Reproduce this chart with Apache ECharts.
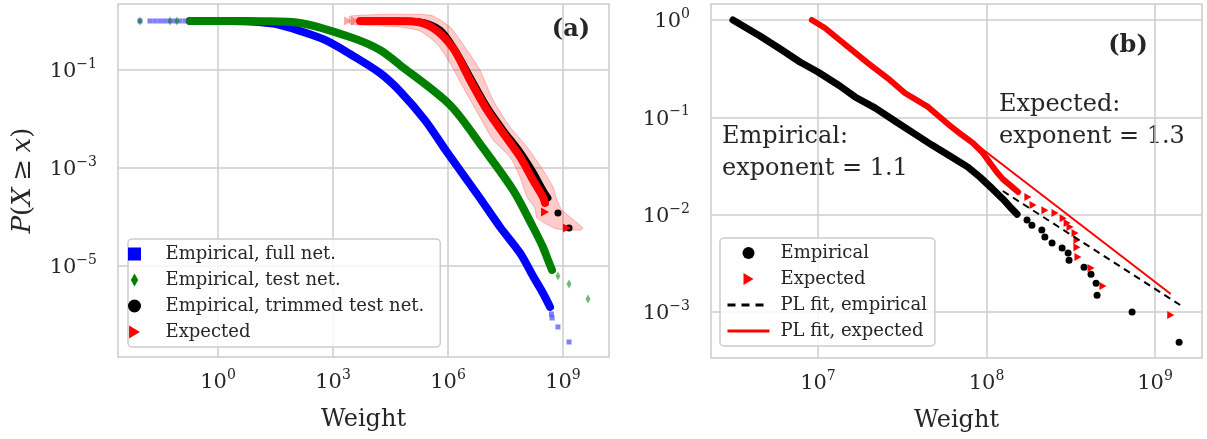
<!DOCTYPE html>
<html>
<head>
<meta charset="utf-8">
<script src="https://cdn.jsdelivr.net/npm/echarts@6/dist/echarts.min.js"></script>
<style>
html, body { margin: 0; padding: 0; background: #fff; }
#chart { width: 1207px; height: 439px; }
</style>
</head>
<body>
<div id="chart"></div>
<script>
// ---- panel (a): complementary CDF, points are [weight, P(X >= x)] ----
var fullHead = [[9.2e-3, 1], [0.0168, 1], [0.0227, 1], [0.0307, 1], [0.0414, 1], [0.056, 1], [0.0755, 1], [0.102, 1], [0.14, 1]];
var fullLine = [[0.186, 1], [2.06, 1], [6.8, 0.98], [30.7, 0.87], [138, 0.625], [619, 0.41], [2780, 0.212],
  [1.68e4, 0.087], [5.6e4, 0.037], [2.5e5, 9.5e-3], [9.4e5, 2.12e-3], [6.8e6, 2.44e-4], [2.28e7, 6.25e-5],
  [7.6e7, 1.84e-5], [1.65e8, 6.25e-6], [3.0e8, 2.81e-6], [4.6e8, 1.46e-6]];
var fullTail = [[5.0e8, 1.05e-6], [5.2e8, 8.7e-7], [7.4e8, 5.7e-7], [1.44e9, 2.81e-7]];

var testHead = [[9.2e-3, 1], [0.056, 1], [0.085, 1]];
var testLine = [[0.186, 1], [2.06, 1], [12.5, 0.99], [138, 0.91], [2780, 0.47], [1.68e4, 0.256], [5.6e4, 0.126],
  [1.13e6, 0.0193], [8.2e6, 2.56e-3], [4.97e7, 3.56e-4], [1.65e8, 6.25e-5], [3.0e8, 2.44e-5], [4.07e8, 1.32e-5],
  [5.18e8, 8.3e-6]];
var testTail = [[7.4e8, 6.25e-6], [1.44e9, 4.3e-6], [4.5e9, 2.12e-6]];

var trimLine = [[3.07e4, 1], [1.86e5, 0.955], [6.2e5, 0.655], [1.52e6, 0.256], [3.76e6, 0.072], [1.04e7, 0.0176],
  [2.73e7, 5.97e-3], [7.6e7, 2.12e-3], [1.65e8, 8.3e-4], [3.0e8, 3.56e-4], [4.07e8, 2.44e-4]];
var trimTail = [[7.4e8, 1.21e-4], [1.44e9, 5.97e-5]];

var expHead = [[2470, 1], [3750, 1]];
var expLine = [[5070, 1], [1.68e4, 1], [1.22e5, 0.98], [4.07e5, 0.72], [1.35e6, 0.281], [3.76e6, 0.0625],
  [1.04e7, 0.0153], [2.73e7, 5.18e-3], [7.6e7, 1.68e-3], [1.65e8, 5.69e-4], [3.0e8, 2.56e-4], [3.4e8, 1.93e-4]];
var expTail = [[3.4e8, 1.26e-4], [1.27e9, 5.97e-5]];

// spread of the expected curve: right edge going down, then left edge going back up
var bandRight = [[2780, 1.26], [3.4e5, 1.32], [1.13e6, 0.755], [3.13e6, 0.256], [6.8e6, 0.1], [1.5e7, 0.0244],
  [4.15e7, 6.9e-3], [1.15e8, 2.69e-3], [3.0e8, 9.1e-4], [5.5e8, 4.1e-4], [7.0e8, 2.22e-4], [9.4e8, 1.39e-4],
  [3.33e9, 5.97e-5], [2.79e9, 5.43e-5]];
var bandLeft = [[7.0e8, 5.7e-5], [2.1e8, 9.5e-5], [1.86e8, 1.53e-4], [1.15e8, 2.56e-4], [7.6e7, 6.55e-4],
  [4.15e7, 1.68e-3], [1.5e7, 3.73e-3], [6.8e6, 0.011], [2.47e6, 0.045], [1.13e6, 0.139], [5.2e5, 0.34],
  [1.86e5, 0.625], [5.6e4, 0.755], [2780, 0.87]];

// ---- panel (b): tail of the trimmed net ----
var empLine = [[3.13e6, 1], [4.53e6, 0.685], [6.11e6, 0.492], [7.82e6, 0.370], [1e7, 0.292], [1.35e7, 0.210],
  [1.66e7, 0.162], [2.18e7, 0.125], [2.86e7, 0.0917], [3.77e7, 0.0673], [4.75e7, 0.0519], [6.07e7, 0.0400],
  [7.76e7, 0.0308], [9.15e7, 0.0243], [1.09e8, 0.0183], [1.25e8, 0.0145], [1.38e8, 0.0120], [1.52e8, 0.0101]];
var empDots = [[1.74e8, 8.8e-3], [1.86e8, 7.8e-3], [2.13e8, 6.95e-3], [2.22e8, 5.89e-3], [2.45e8, 5.11e-3],
  [2.81e8, 4.54e-3], [3.05e8, 4.03e-3], [3.09e8, 3.41e-3], [3.79e8, 2.89e-3], [4.17e8, 2.45e-3],
  [4.47e8, 1.98e-3], [4.53e8, 1.49e-3], [7.31e8, 9.98e-4], [1.39e9, 4.9e-4]];
var expLineB = [[9.2e6, 1], [1.10e7, 0.828], [1.39e7, 0.594], [1.98e7, 0.361], [2.67e7, 0.242], [3.28e7, 0.178],
  [4.50e7, 0.128], [5.91e7, 0.0853], [7.16e7, 0.0658], [8.32e7, 0.0544], [9.41e7, 0.0440], [1.05e8, 0.0339],
  [1.15e8, 0.0274], [1.25e8, 0.0232], [1.38e8, 0.0201], [1.54e8, 0.0171]];
var expTriB = [[1.76e8, 0.0152], [1.89e8, 0.0126], [2.22e8, 0.0111], [2.55e8, 0.0104], [2.85e8, 9.2e-3],
  [3.01e8, 8.2e-3], [3.13e8, 7.46e-3], [3.35e8, 6.47e-3], [3.44e8, 5.48e-3], [3.44e8, 4.64e-3],
  [3.49e8, 3.67e-3], [4.17e8, 2.83e-3], [4.91e8, 1.85e-3], [1.24e9, 9.3e-4]];
var fitEmp = [[1.25e8, 0.0175], [1.41e9, 1.18e-3]];
var fitExp = [[6.5e7, 0.0776], [1.24e9, 1.53e-3]];

// tick positions
var ticksAx = [1, 1e3, 1e6, 1e9];
var ticksAy = [1e-5, 1e-3, 1e-1];
var ticksBx = [1e7, 1e8, 1e9];
var ticksBy = [1e-3, 1e-2, 1e-1, 1];

var FONT = 'DejaVu Serif';
var TXT = '#262626';
var GRID = '#cccccc';
var TRI = 'path://M0,0L10,6L0,12Z';
var SQUARE = 'path://M0,0L10,0L10,10L0,10Z';
var THIN_DIAMOND = 'path://M4,0L8,7L4,14L0,7Z';

function powLabel(v) {
	var e = Math.round(Math.log10(v));
	return '{b|10}{s|' + (e < 0 ? '\u2212' + (-e) : e) + '}';
}

function logAxis(gridIndex, min, max, ticks, margin) {
	return {
		type: 'log',
		logBase: 10,
		gridIndex: gridIndex,
		min: min,
		max: max,
		axisLine: { show: false },
		axisTick: { show: false, customValues: ticks },
		minorTick: { show: false },
		minorSplitLine: { show: false },
		splitLine: { show: true, lineStyle: { color: GRID, width: 1.5 } },
		axisLabel: {
			customValues: ticks,
			margin: margin,
			formatter: powLabel,
			rich: {
				b: { fontSize: 21, fontFamily: FONT, color: TXT, padding: [4, 0, 0, 0], verticalAlign: 'bottom' },
				s: { fontSize: 14, fontFamily: FONT, color: TXT, verticalAlign: 'top' }
			}
		}
	};
}

var xa = logAxis(0, 2.46e-3, 1.59e10, ticksAx, 11);
xa.name = 'Weight';
var xb = logAxis(1, 2.32e6, 1.90e9, ticksBx, 11);
xb.name = 'Weight';
[xa, xb].forEach(function(ax) {
	ax.nameLocation = 'middle';
	ax.nameGap = 51;
	ax.nameTextStyle = { fontSize: 24, fontFamily: FONT, color: TXT };
});

var ya = logAxis(0, 1.39e-7, 2.22, ticksAy, 21);
ya.name = '{i|P}({i|X}\u2005\u2265\u2005{i|x})';
ya.nameLocation = 'middle';
ya.nameGap = 82;
ya.nameTextStyle = {
	fontSize: 26, fontFamily: FONT, color: TXT,
	rich: { i: { fontSize: 26, fontFamily: FONT, fontStyle: 'italic', color: TXT } }
};
var yb = logAxis(1, 3.37e-4, 1.46, ticksBy, 21);

function faded(arr, op) {
	return arr.map(function(p) { return { value: p, itemStyle: { opacity: op } }; });
}

function thick(name, data, color, width, xi, smooth) {
	return {
		name: name, type: 'line', data: data, xAxisIndex: xi, yAxisIndex: xi,
		symbol: 'none', silent: true,
		smooth: smooth || false,
		lineStyle: { color: color, width: width, cap: 'round', join: 'round' }
	};
}

function dots(name, data, color, symbol, size, xi) {
	return {
		name: name, type: 'scatter', data: data, xAxisIndex: xi, yAxisIndex: xi,
		symbol: symbol, symbolSize: size, itemStyle: { color: color, opacity: 1 }
	};
}

var myChart = echarts.init(document.getElementById('chart'), null, { renderer: 'canvas' });

var option = {
	animation: false,
	backgroundColor: '#ffffff',
	grid: [
		{ left: 118, top: 4, width: 491, height: 353, show: true, borderColor: GRID, borderWidth: 1.5, backgroundColor: 'transparent', outerBoundsMode: 'none' },
		{ left: 711, top: 4, width: 491, height: 354, show: true, borderColor: GRID, borderWidth: 1.5, backgroundColor: 'transparent', outerBoundsMode: 'none' }
	],
	xAxis: [xa, xb],
	yAxis: [ya, yb],
	legend: [
		{
			left: 128, top: 239, orient: 'vertical',
			padding: [6, 16, 6, 0], itemGap: 8, itemWidth: 52, itemHeight: 13,
			backgroundColor: 'rgba(255,255,255,0.8)', borderColor: GRID, borderWidth: 1.5, borderRadius: 4,
			textStyle: { fontSize: 18, lineHeight: 18, fontFamily: FONT, color: TXT },
			data: [
				{ name: 'Empirical, full net.', itemStyle: { opacity: 1 } },
				{ name: 'Empirical, test net.', itemStyle: { opacity: 1 } },
				{ name: 'Empirical, trimmed test net.', itemStyle: { opacity: 1 } },
				{ name: 'Expected', itemStyle: { opacity: 1 } }
			]
		},
		{
			left: 720, top: 238, orient: 'vertical',
			padding: [6, 8, 6, 6], itemGap: 8, itemWidth: 42, itemHeight: 12,
			backgroundColor: 'rgba(255,255,255,0.8)', borderColor: GRID, borderWidth: 1.5, borderRadius: 4,
			textStyle: { fontSize: 18, lineHeight: 18, fontFamily: FONT, color: TXT, padding: [0, 0, 0, 6] },
			data: [
				{ name: 'Empirical', itemStyle: { opacity: 1 } },
				{ name: 'Expected B', itemStyle: { opacity: 1 } },
				{ name: 'PL fit, empirical', itemStyle: { opacity: 0 }, lineStyle: { width: 3, type: [8, 6] } },
				{ name: 'PL fit, expected', itemStyle: { opacity: 0 }, lineStyle: { width: 3 } }
			],
			formatter: function(name) { return name === 'Expected B' ? 'Expected' : name; }
		}
	],
	series: [
		{
			name: 'band', type: 'custom', xAxisIndex: 0, yAxisIndex: 0, silent: true,
			data: [bandRight[0]],
			renderItem: function(params, api) {
				var pts = bandRight.concat(bandLeft).map(function(p) { return api.coord(p); });
				return {
					type: 'polygon',
					shape: { points: pts, smooth: 0.2 },
					style: { fill: 'rgba(255,0,0,0.2)', stroke: 'rgba(255,0,0,0.25)', lineWidth: 1 }
				};
			}
		},
		thick('full curve', fullLine, '#0000ff', 8, 0, 0.3),
		dots('Empirical, full net.', faded(fullHead.concat(fullTail), 0.5), '#0000ff', SQUARE, 5, 0),
		thick('test curve', testLine, '#008000', 8, 0, 0.3),
		dots('Empirical, test net.', faded(testHead.concat(testTail), 0.55), '#008000', THIN_DIAMOND, [5, 9], 0),
		thick('trimmed curve', trimLine, '#000000', 7, 0, 0.3),
		dots('Empirical, trimmed test net.', trimTail, '#000000', 'circle', 7, 0),
		thick('expected curve', expLine, '#ff0000', 8, 0, 0.3),
		dots('Expected', faded(expHead, 0.35).concat(expTail), '#ff0000', TRI, [8, 9], 0),

		thick('emp curve b', empLine, '#000000', 7, 1),
		dots('Empirical', empDots, '#000000', 'circle', 7, 1),
		thick('exp curve b', expLineB, '#ff0000', 6, 1),
		dots('Expected B', expTriB, '#ff0000', TRI, [7, 8], 1),
		{
			name: 'PL fit, empirical', type: 'line', data: fitEmp, xAxisIndex: 1, yAxisIndex: 1,
			symbol: 'none', itemStyle: { color: '#000000' },
			lineStyle: { color: '#000000', width: 2, type: [7, 5] }
		},
		{
			name: 'PL fit, expected', type: 'line', data: fitExp, xAxisIndex: 1, yAxisIndex: 1,
			symbol: 'none', itemStyle: { color: '#ff0000' },
			lineStyle: { color: '#ff0000', width: 2 }
		}
	],
	graphic: [
		{ type: 'text', x: 571, y: 30, style: { text: '(a)', font: 'bold 24px "DejaVu Serif"', fill: TXT, textAlign: 'center', textVerticalAlign: 'middle' } },
		{ type: 'text', x: 1128, y: 46, style: { text: '(b)', font: 'bold 24px "DejaVu Serif"', fill: TXT, textAlign: 'center', textVerticalAlign: 'middle' } },
		{ type: 'text', x: 722, y: 137, style: { text: 'Empirical:', font: '24px "DejaVu Serif"', fill: TXT, textAlign: 'left', textVerticalAlign: 'middle' } },
		{ type: 'text', x: 722, y: 169, style: { text: 'exponent = 1.1', font: '24px "DejaVu Serif"', fill: TXT, textAlign: 'left', textVerticalAlign: 'middle' } },
		{ type: 'text', x: 999, y: 105, style: { text: 'Expected:', font: '24px "DejaVu Serif"', fill: TXT, textAlign: 'left', textVerticalAlign: 'middle' } },
		{ type: 'text', x: 999, y: 137, style: { text: 'exponent = 1.3', font: '24px "DejaVu Serif"', fill: TXT, textAlign: 'left', textVerticalAlign: 'middle' } }
	]
};

myChart.setOption(option);
</script>
</body>
</html>
